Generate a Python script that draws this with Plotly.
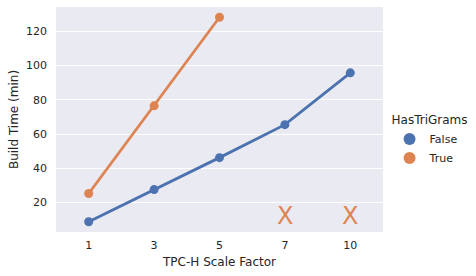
import plotly.graph_objects as go

scale_factors = ["1", "3", "5", "7", "10"]
build_false = [8.7, 27.5, 46.2, 65.5, 95.8]
true_factors = ["1", "3", "5"]
build_true = [25.2, 76.5, 128.3]
missing_factors = ["7", "10"]
missing_y = [12.0, 12.0]
yticks = [20, 40, 60, 80, 100, 120]

BLUE = "#4c72b0"
ORANGE = "#dd8452"
FONT = "DejaVu Sans"
TXT = "#262626"

fig = go.Figure()
fig.add_trace(go.Scatter(x=scale_factors, y=build_false, mode="lines+markers",
                         line=dict(color=BLUE, width=2.8), marker=dict(color=BLUE, size=9),
                         showlegend=False))
fig.add_trace(go.Scatter(x=true_factors, y=build_true, mode="lines+markers",
                         line=dict(color=ORANGE, width=2.8), marker=dict(color=ORANGE, size=9),
                         showlegend=False))
# legend entries (marker only)
fig.add_trace(go.Scatter(x=[None], y=[None], mode="markers", name="False",
                         marker=dict(color=BLUE, size=9)))
fig.add_trace(go.Scatter(x=[None], y=[None], mode="markers", name="True",
                         marker=dict(color=ORANGE, size=9)))

for xf, yv in zip(missing_factors, missing_y):
    fig.add_annotation(x=scale_factors.index(xf), y=yv, xref="x", yref="y", text="X",
                       showarrow=False, font=dict(family=FONT, size=24, color=ORANGE))

fig.update_layout(
    width=476, height=276,
    margin=dict(l=56, r=93, t=7, b=44, autoexpand=False),
    paper_bgcolor="white", plot_bgcolor="#eaeaf2",
    font=dict(family=FONT, color=TXT, size=11),
    legend=dict(title=dict(text="HasTriGrams", font=dict(size=12, family=FONT, color=TXT)),
                x=1.02, xanchor="left", y=0.405, yanchor="middle",
                font=dict(size=11, family=FONT, color=TXT), tracegroupgap=0,
                bgcolor="rgba(0,0,0,0)", itemsizing="constant"),
)
fig.update_xaxes(type="category", categoryorder="array", categoryarray=scale_factors,
                 range=[-0.5, 4.5], showgrid=False, automargin=False, ticklabelstandoff=5,
                 zeroline=False, ticks="", tickfont=dict(size=11, family=FONT, color=TXT),
                 title=dict(text="TPC-H Scale Factor", font=dict(size=12, family=FONT, color=TXT), standoff=6))
fig.update_yaxes(range=[2.7, 134.3], tickvals=yticks, showgrid=True, gridcolor="white", gridwidth=1,
                 zeroline=False, ticks="", automargin=False, ticklabelstandoff=8,
                 tickfont=dict(size=11, family=FONT, color=TXT),
                 title=dict(text="Build Time (min)", font=dict(size=12, family=FONT, color=TXT), standoff=4))

fig.write_html("out.html", config={"displayModeBar": False},
               post_script="document.body.style.margin='0';")
